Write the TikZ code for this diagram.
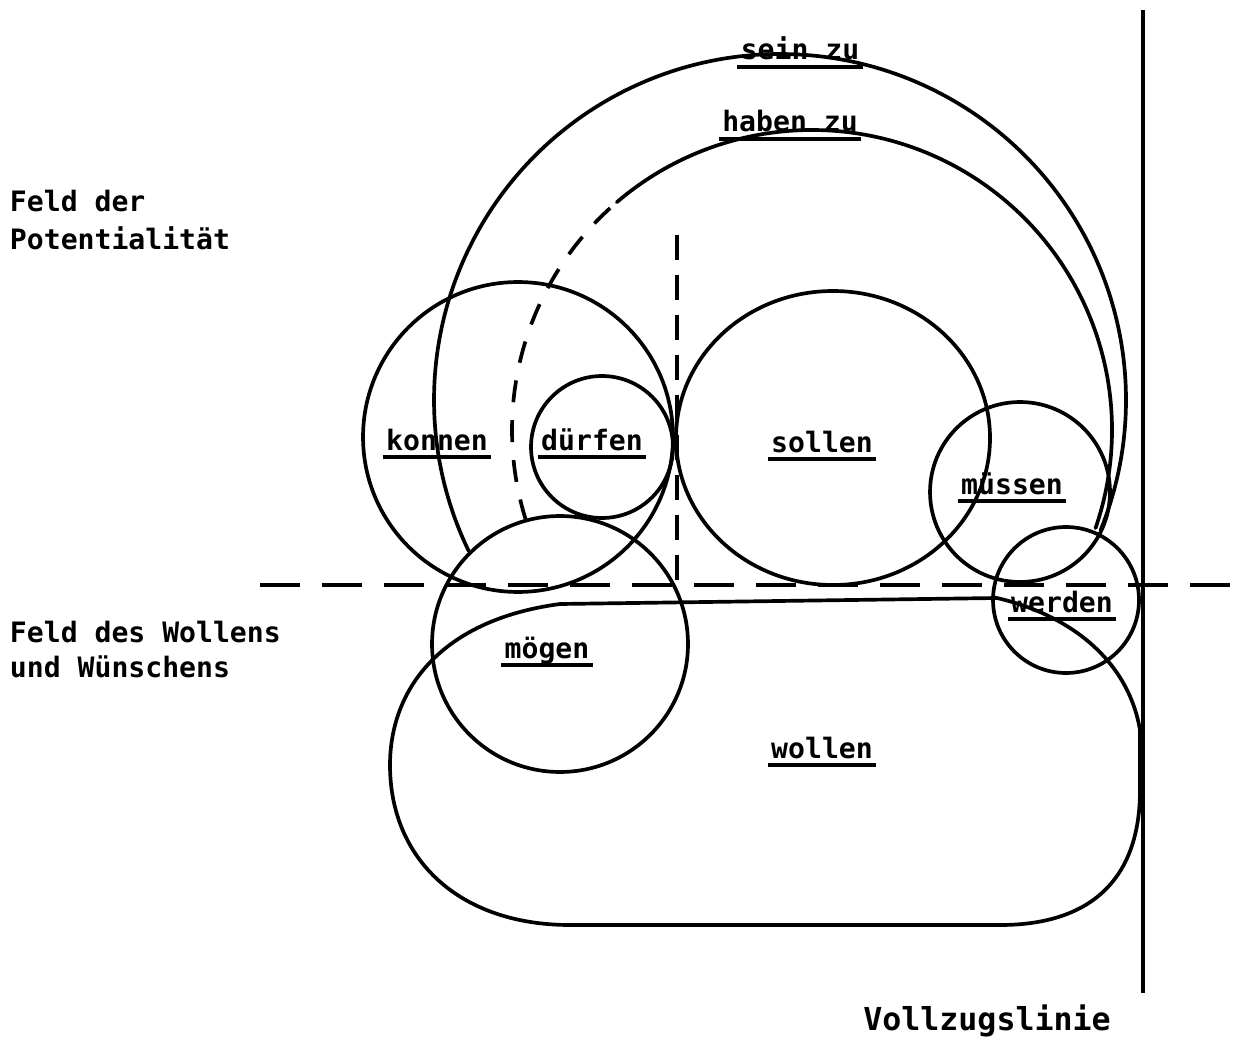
\documentclass[tikz,border=0pt]{standalone}
\usepackage{fontspec}
\newfontfamily\typewriter{DejaVu Sans Mono}
\begin{document}
\begin{tikzpicture}[x=0.02cm, y=-0.02cm,
  curve/.style={line width=2.1pt, line join=round, line cap=round},
  ring/.style={draw, circle, line width=2.1pt, inner sep=0pt, outer sep=0pt},
  txt/.style={font=\typewriter\bfseries\fontsize{16}{19}\selectfont, inner sep=0pt, outer sep=0pt},
  word/.style={txt, anchor=base,
    append after command={([xshift=-2pt,yshift=-0.14cm]\tikzlastnode.base west)
      edge[line width=2.1pt] ([xshift=2pt,yshift=-0.14cm]\tikzlastnode.base east)}},
  side/.style={txt, anchor=base west},
  guide/.style={line width=2.1pt, dash pattern=on 0.8cm off 0.44cm},
  ]
\useasboundingbox (0,0) rectangle (1236,1043);

% the two fields and the line of completion
\coordinate (h1) at (260,585);
\coordinate (h2) at (1236,585);
\coordinate (d1) at (677,235);
\coordinate (d2) at (677,585);
\coordinate (v1) at (1143,10);
\coordinate (v2) at (1143,993);
\draw[guide] (h1) -- (h2);
\draw[line width=2.1pt, dash pattern=on 0.5cm off 0.3cm] (d1) -- (d2);
\draw[line width=2.8pt] (v1) -- (v2);

% circles of the modal verbs
\node[ring, minimum size=6.2cm]  (koennen) at (518,437) {};
\node[ring, minimum size=2.84cm] (duerfen) at (602,447) {};
\draw[curve] (833,438) ellipse [x radius=157, y radius=147];
\coordinate (sollen) at (833,438);
\node[ring, minimum size=3.6cm]  (muessen) at (1020,492) {};
\node[ring, minimum size=2.92cm] (werden)  at (1066,600) {};
\node[ring, minimum size=5.12cm] (moegen)  at (560,644) {};

% wollen: the wide rounded field below
\coordinate (w1) at (997,598);
\coordinate (w2) at (1140,730);
\coordinate (w3) at (1140,790);
\coordinate (w4) at (1000,925);
\coordinate (w5) at (570,925);
\coordinate (w6) at (390,765);
\coordinate (w7) at (560,604);
\draw[curve] (w1) .. controls (1070,615) and (1128,660) .. (w2) -- (w3)
  .. controls (1140,880) and (1090,925) .. (w4) -- (w5)
  .. controls (460,925) and (390,860) .. (w6)
  .. controls (390,690) and (440,620) .. (w7) -- cycle;

% sein zu: outer arc
\draw[curve] plot[domain=154.1:382.1, samples=160, smooth]
  ({780+346*cos(\x)},{400+346*sin(\x)});
% haben zu: inner arc, dashed on its lower left part
\draw[line width=2.1pt, dash pattern=on 0.44cm off 0.36cm]
  plot[domain=162.4:229.4, samples=60, smooth]
  ({812+300*cos(\x)},{430+300*sin(\x)});
\draw[curve] plot[domain=229.4:379.1, samples=150, smooth]
  ({812+300*cos(\x)},{430+300*sin(\x)});

% labels
\node[word] (lsein)    at (800,60)   {sein zu};
\node[word] (lhaben)   at (790,132)  {haben zu};
\node[word] (lkoennen) at (437,450)  {konnen};
\node[word] (lduerfen) at (592,450)  {dürfen};
\node[word] (lsollen)  at (822,452)  {sollen};
\node[word] (lmuessen) at (1012,494) {müssen};
\node[word] (lwerden)  at (1062,612) {werden};
\node[word] (lmoegen)  at (547,658)  {mögen};
\node[word] (lwollen)  at (822,758)  {wollen};

\node[side] (p1) at (10,212) {Feld der};
\node[side] (p2) at (10,250) {Potentialität};
\node[side] (q1) at (10,642) {Feld des Wollens};
\node[side] (q2) at (10,677) {und Wünschens};
\node[txt, anchor=base, font=\typewriter\bfseries\fontsize{18}{21}\selectfont]
  (vl) at (987,1030) {Vollzugslinie};
\end{tikzpicture}
\end{document}
